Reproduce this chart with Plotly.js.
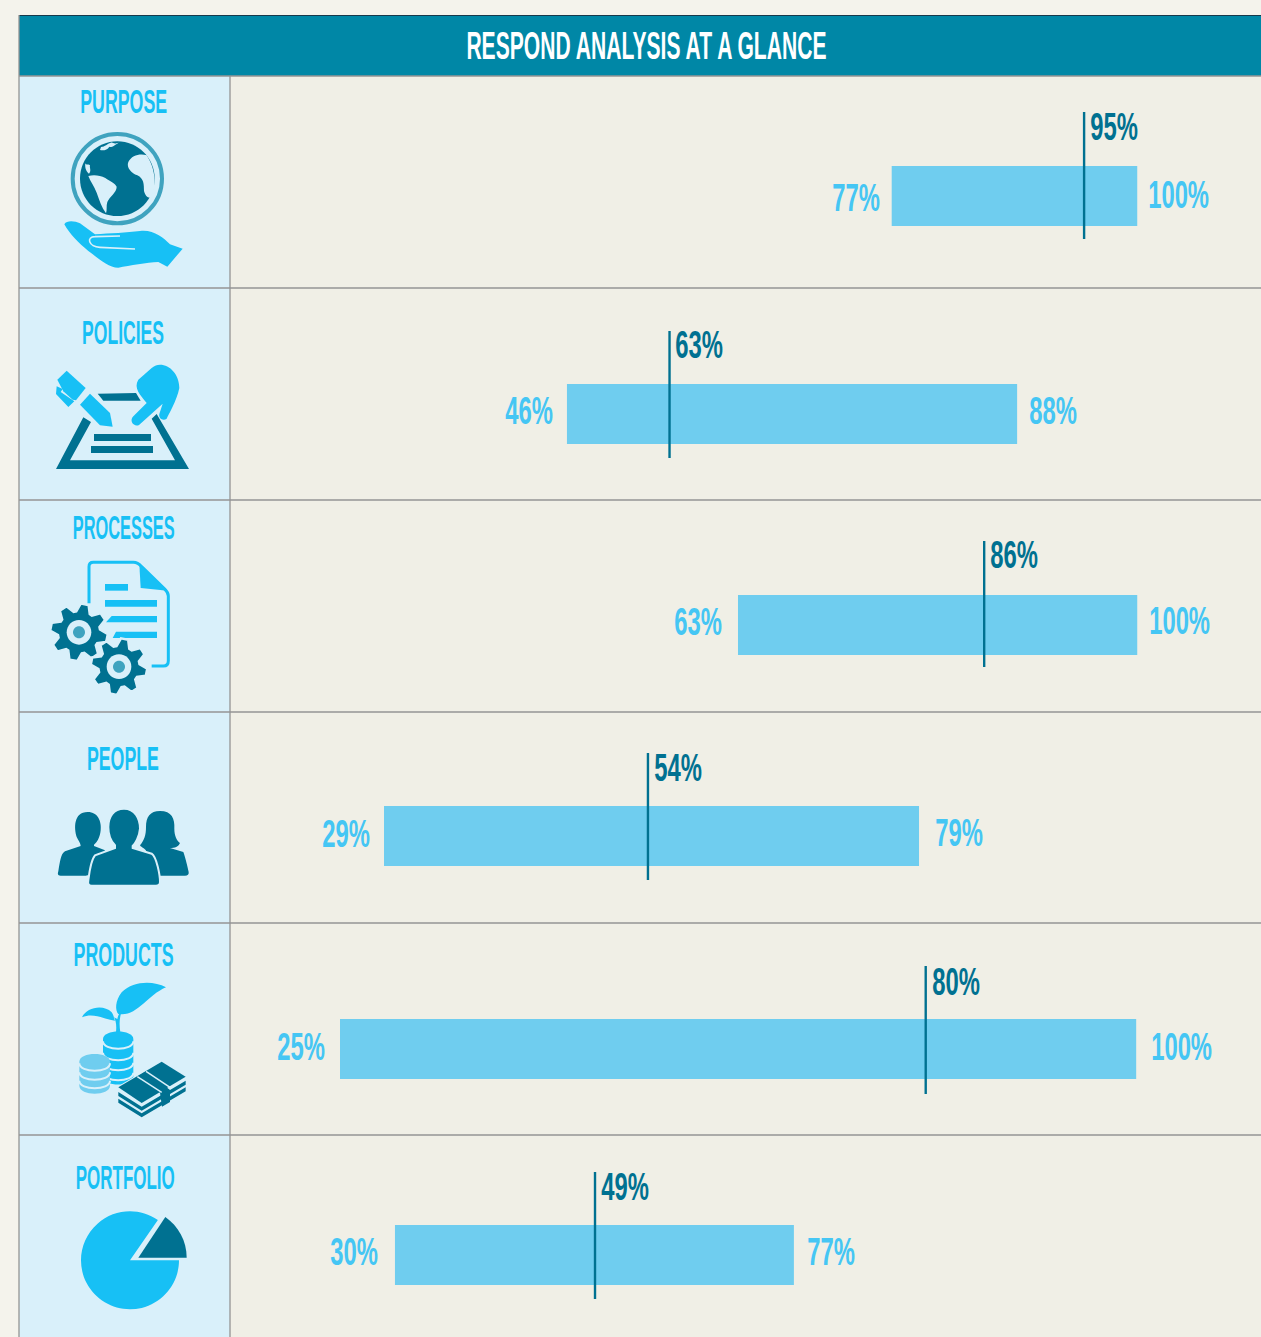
<!DOCTYPE html>
<html>
<head>
<meta charset="utf-8">
<script src="https://cdn.plot.ly/plotly-3.0.1.min.js"></script>
<style>html,body{margin:0;padding:0;background:#f4f3ec;overflow:hidden}</style>
</head>
<body>
<div id="chart" style="width:1261px;height:1337px"></div>
<script>
// ---- data (bar extents and marker as drawn, labels as printed) ----
const categories = ["PURPOSE","POLICIES","PROCESSES","PEOPLE","PRODUCTS","PORTFOLIO"];
const rangeLow   = [76.9, 46.35, 62.44, 29.14, 25, 30.17];
const rangeHigh  = [100, 88.7, 100, 79.47, 99.9, 67.7];
const markerVals = [95, 56, 85.6, 53.97, 80.1, 48.99];
const lowLabels    = ["77%","46%","63%","29%","25%","30%"];
const highLabels   = ["100%","88%","100%","79%","100%","77%"];
const markerLabels = ["95%","63%","86%","54%","80%","49%"];
const chartTitle = "RESPOND ANALYSIS AT A GLANCE";

// ---- layout constants (page pixels) ----
const barY = [196,414,625,836,1049,1255];
const markTop = [112,331,541,753,966,1172];
const markBot = [239,458,667,880,1094,1299];
const catX = [123.5,123,123,123,123.5,125.5], catY = [101,332,527,758,954,1177];
const catW = [87,82,102,72,100,99];
const lowX = [856,529,698,346,301,354], lowY = [198,411,622,834,1047,1252];
const highX = [1178,1053,1179,959,1181,831], highY = [195,411,621,833,1047,1252];
const markX = [1114,699,1014,678,956,625], markY = [127,345,555,768,982,1187];
const rowLines = [76,288,500,712,923,1135];

const C = {page:'#f4f3ec',panel:'#f0efe6',cell:'#d9f0fa',head:'#0087a6',grid:'#949494',bar:'#6fcdef',
           light:'#45c6f4',cat:'#17c0f5',dark:'#007191',ring:'#3fa3bf'};

// ---- helpers for decorations ----
const sh = (o)=>Object.assign({xref:'x2',yref:'y',layer:'below'},o);
const rect=(x0,y0,x1,y1,fill)=>sh({type:'rect',x0,y0,x1,y1,fillcolor:fill,line:{width:0}});
const hline=(y,x0,x1,color,w)=>sh({type:'line',x0,x1,y0:y,y1:y,line:{color:color||C.grid,width:w||1.3}});
const vline=(x,y0,y1)=>sh({type:'line',x0:x,x1:x,y0,y1,line:{color:C.grid,width:1.3}});

// icon paths are written in 3x crop coordinates relative to the cell origin
function conv(ox,oy,d){
  let i=0;
  return d.replace(/-?\d+(\.\d+)?/g,(m)=>{const v=parseFloat(m)/3+(i++%2===0?ox:oy);return v.toFixed(2);});
}
function P(ox,oy,d,fill,stroke,sw){
  return sh({type:'path',path:conv(ox,oy,d),fillcolor:fill||'rgba(0,0,0,0)',fillrule:'evenodd',
    line:{color:stroke||'rgba(0,0,0,0)',width:stroke?(sw||1):0}});
}
function circ(cx,cy,r){
  const k=0.5523*r;
  return `M${cx-r} ${cy} C${cx-r} ${cy-k} ${cx-k} ${cy-r} ${cx} ${cy-r} C${cx+k} ${cy-r} ${cx+r} ${cy-k} ${cx+r} ${cy} C${cx+r} ${cy+k} ${cx+k} ${cy+r} ${cx} ${cy+r} C${cx-k} ${cy+r} ${cx-r} ${cy+k} ${cx-r} ${cy} Z`;
}
function gear(cx,cy,rO,rI,rot){
  let d='',n=8;
  for(let i=0;i<n;i++){
    const a=rot+i*2*Math.PI/n, pts=[[rI,a-0.32],[rO,a-0.13],[rO,a+0.13],[rI,a+0.32]];
    pts.forEach((p,j)=>{d+=((i===0&&j===0)?'M':'L')+(cx+p[0]*Math.cos(p[1])).toFixed(1)+' '+(cy+p[0]*Math.sin(p[1])).toFixed(1)+' ';});
  }
  return d+'Z';
}
function arcPath(cx,cy,r,a0,a1){
  let d='',n=Math.ceil(Math.abs(a1-a0)/(Math.PI/2)),st=(a1-a0)/n,k=4/3*Math.tan(st/4)*r;
  for(let i=0;i<n;i++){
    const s=a0+i*st,e=s+st;
    d+=`C${(cx+r*Math.cos(s)-k*Math.sin(s)).toFixed(1)} ${(cy+r*Math.sin(s)+k*Math.cos(s)).toFixed(1)} ${(cx+r*Math.cos(e)+k*Math.sin(e)).toFixed(1)} ${(cy+r*Math.sin(e)-k*Math.cos(e)).toFixed(1)} ${(cx+r*Math.cos(e)).toFixed(1)} ${(cy+r*Math.sin(e)).toFixed(1)} `;
  }
  return d;
}

const shapes=[];
// table
shapes.push(rect(19,76,230,1337,C.cell));
shapes.push(rect(230,76,1261,1337,C.panel));
shapes.push(rect(19,15,1261,76,C.head));
shapes.push(hline(15.5,19,1261,'#17384a',1));
rowLines.forEach(y=>shapes.push(hline(y,19,1261)));
shapes.push(vline(19,15,1337));
shapes.push(vline(230,76,1337));

// PURPOSE icon
{const o=[20,76],a=(d,f,s,w)=>shapes.push(P(o[0],o[1],d,f,s,w));
 a(circ(292,308,134),null,C.ring,4);
 a(circ(292,308,112),C.dark);
 a('M205 300 C222 296 240 298 256 306 C270 316 285 322 290 332 C290 350 268 362 262 378 C258 390 262 402 258 412 C245 395 238 372 230 350 C222 330 212 318 205 300 Z',C.cell);
 a('M380 238 C360 232 335 238 325 258 C318 275 335 292 352 298 C372 308 372 325 372 345 C376 360 385 368 394 364 C410 335 408 280 380 238 Z',C.cell);
 a('M243 213 C255 212 262 203 272 200 C282 198 278 206 296 200 C280 210 275 215 268 212 C262 222 250 225 240 222 Z',C.cell);
 a('M196 262 C200 270 205 262 210 268 C208 275 215 285 207 293 C200 288 194 278 196 262 Z',C.cell);
 a('M133 445 C140 432 165 435 180 442 L225 475 C270 472 320 470 360 465 C400 460 430 485 450 505 L488 518 L442 572 L415 558 C380 560 330 568 295 575 C265 575 240 550 205 525 C175 500 150 475 133 445 Z',C.cat);
 a('M345 519 L240 514 C205 512 198 482 225 482 L300 480',null,C.cell,1.6);
}
// POLICIES icon
{const o=[20,288],a=(d,f,s,w)=>shapes.push(P(o[0],o[1],d,f,s,w));
 a('M233 317 L348 315 L362 338 L250 338 Z',C.dark);
 a('M108 543 L190 388 L213 402 L150 517 L465 517 L395 392 L410 378 L507 543 Z',C.dark);
 a('M222 438 L393 438 L393 459 L222 459 Z',C.dark);
 a('M213 474 L399 474 L399 495 L213 495 Z',C.dark);
 a('M140 248 L197 300 L168 337 L158 335 L130 310 L112 275 Z',C.cat);
 a('M110 295 L128 303 L122 312 L163 340 L145 357 L108 318 Z',C.cat);
 a('M210 317 L270 375 L278 416 L240 412 L180 350 Z',C.cat);
 a('M420 230 C450 230 478 260 478 300 C470 340 445 380 440 392 C430 400 415 392 418 378 L428 347 L358 410 C345 420 325 400 340 385 L380 345 C360 320 340 300 355 275 L395 240 C405 232 410 230 420 230 Z',C.cat);
}
// PROCESSES icon
{const o=[20,500],a=(d,f,s,w)=>shapes.push(P(o[0],o[1],d,f,s,w));
 a('M207 310 L207 200 C207 192 212 187 220 187 L340 187 C350 187 358 192 365 200 L435 268 C442 275 445 280 445 288 L445 482 C445 492 440 498 430 498 L395 498',null,C.cat,3);
 a('M358 192 L443 272 L362 264 Z',C.cat);
 a('M255 252 L324 252 L324 272 L255 272 Z',C.cat);
 a('M255 300 L411 300 L411 320 L255 320 Z',C.cat);
 a('M275 348 L411 348 L411 367 L258 367 Z',C.cat);
 a('M288 395 L411 395 L411 414 L278 414 Z',C.cat);
 a(gear(177,397,85,62,-Math.PI/2+0.2),C.dark,C.cell,1.5);
 a(circ(177,397,37),C.cell);
 a(circ(177,397,18),C.ring);
 a(gear(297,500,85,62,-Math.PI/2+0.2),C.dark,C.cell,2.5);
 a(circ(297,500,37),C.cell);
 a(circ(297,500,18),C.ring);
}
// PEOPLE icon
{const o=[20,712],a=(d,f,s,w)=>shapes.push(P(o[0],o[1],d,f,s,w));
 a('M203 300 C235 300 245 330 242 355 C240 375 232 390 222 398 L222 402 L255 415 L240 480 L197 491 L122 491 C112 491 113 485 115 478 C120 450 122 425 135 418 L182 402 C182 395 175 385 170 375 C162 350 160 300 203 300 Z',C.dark);
 a('M420 297 C455 297 465 320 463 350 C463 370 470 385 480 393 C475 405 465 408 450 408 L490 420 C497 440 503 465 506 480 C507 488 503 491 495 491 L400 491 L380 420 C375 408 365 408 360 400 C372 385 378 370 378 345 C378 315 390 297 420 297 Z',C.dark);
 a('M312 290 C345 290 360 320 360 350 C358 375 345 395 338 402 L338 408 L395 425 C410 435 420 490 420 510 C420 518 415 521 408 521 L215 521 C205 521 203 515 205 505 C208 480 212 445 225 430 L285 408 L285 400 C275 390 265 370 265 345 C265 315 280 290 312 290 Z',C.dark,C.cell,2);
}
// PRODUCTS icon
{const o=[20,924],a=(d,f,s,w)=>shapes.push(P(o[0],o[1],d,f,s,w));
 a('M438 190 C400 170 340 170 305 205 C285 230 285 260 295 270 C350 280 380 215 438 190 Z',C.cat);
 a('M186 280 C200 250 250 240 275 265 C282 275 282 285 285 290 C250 285 220 265 186 280 Z',C.cat);
 a('M288 325 C290 305 288 290 282 280 L292 285 C295 272 297 268 305 262 C297 285 298 305 301 325 Z',C.cat);
 a('M249 345 C249 315 340 315 340 345 L340 462 C340 488 249 488 249 462 Z',C.cat);
 [352,386,416,446].forEach(y=>a(`M249 ${y} C249 ${y+30} 340 ${y+30} 340 ${y}`,null,C.cell,2));
 a('M178 413 C178 382 270 382 270 413 L270 485 C270 517 178 517 178 485 Z',C.bar);
 [418,445,470].forEach(y=>a(`M178 ${y} C178 ${y+30} 270 ${y+30} 270 ${y}`,null,C.cell,2));
 a('M425 413 L497 458 L497 530 L365 580 L295 538 L295 490 Z',C.cell,C.cell,2);
 a('M425 413 L497 458 L365 537 L295 490 Z',C.dark);
 a('M295 504 L365 548 L497 470 L497 482 L365 560 L295 516 Z',C.dark);
 a('M295 524 L365 568 L497 490 L497 502 L365 580 L295 536 Z',C.dark);
 a('M352 458 C372 465 378 478 370 488 C380 490 395 490 420 506 L426 548 L450 534 L450 498 L378 442 Z',C.dark);
 a('M378 442 L450 490',null,C.cell,1.5);
 a('M352 458 L425 505',null,C.cell,1.5);
}
// PORTFOLIO icon
{const o=[20,1136],a=(d,f,s,w)=>shapes.push(P(o[0],o[1],d,f,s,w));
 a('M330 373 L477 373 '+arcPath(330,373,147,0,2*Math.PI-0.966)+' Z',C.cat);
 a('M355 365 L500 365 C500 315 475 270 436 243 Z',C.dark);
}

// ---- text ----
const ann=(text,x,y,size,color)=>({text,x,y,xref:'x2',yref:'y',showarrow:false,xanchor:'center',yanchor:'middle',
  font:{family:'"Liberation Sans",Arial,sans-serif',size,color,weight:700}});
const annotations=[ann(chartTitle,646,45.5,38,'#ffffff')];
const fit=[L=>L*.555];
categories.forEach((c,i)=>{
  annotations.push(ann(c,catX[i],catY[i],33,C.cat));
  annotations.push(ann(lowLabels[i],lowX[i],lowY[i],38,C.light));
  annotations.push(ann(highLabels[i],highX[i],highY[i],38,C.light));
  annotations.push(ann(markerLabels[i],markX[i],markY[i],38,C.dark));
  const pct=L=>L*.627;
  fit.push(()=>catW[i],pct,pct,pct);
});

// ---- traces ----
const bars={type:'bar',orientation:'h',base:rangeLow,x:rangeHigh.map((h,i)=>h-rangeLow[i]),y:barY,width:60,
  marker:{color:C.bar,line:{width:0}},hoverinfo:'skip',showlegend:false,xaxis:'x',yaxis:'y'};
const mx=[],my=[];
markerVals.forEach((v,i)=>{mx.push(v,v,null);my.push(markTop[i],markBot[i],null);});
const marks={type:'scatter',mode:'lines',x:mx,y:my,line:{color:C.dark,width:2.4},hoverinfo:'skip',showlegend:false,xaxis:'x',yaxis:'y'};

const layout={
  width:1261,height:1337,margin:{l:0,r:0,t:0,b:0},autosize:false,
  paper_bgcolor:C.page,plot_bgcolor:'rgba(0,0,0,0)',showlegend:false,
  xaxis:{range:[25-340/10.63,25+921/10.63],visible:false,fixedrange:true,domain:[0,1],anchor:'y'},
  xaxis2:{range:[0,1261],visible:false,fixedrange:true,overlaying:'x',anchor:'y',domain:[0,1]},
  yaxis:{range:[1337,0],visible:false,fixedrange:true,domain:[0,1],anchor:'x'},
  shapes,annotations
};
Plotly.newPlot('chart',[bars,marks],layout,{staticPlot:true,displayModeBar:false}).then(()=>{
  document.querySelectorAll('.annotation-text').forEach((t,i)=>{
    const L=t.getComputedTextLength();
    t.setAttribute('textLength',fit[i](L).toFixed(1));
    t.setAttribute('lengthAdjust','spacingAndGlyphs');
  });
});
</script>
</body>
</html>
